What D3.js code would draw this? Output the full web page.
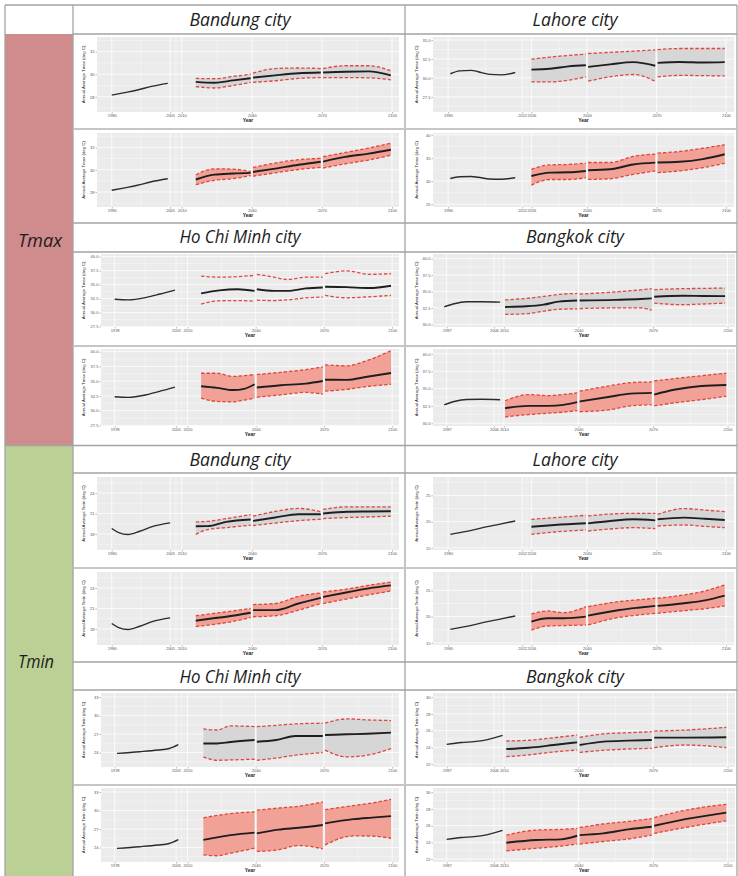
<!DOCTYPE html>
<html>
<head>
<meta charset="utf-8">
<script src="https://cdn.jsdelivr.net/npm/d3@7"></script>
<style>
  html, body { margin: 0; padding: 0; background: #ffffff; }
  svg { display: block; }
</style>
</head>
<body>
<svg id="figure" width="738" height="876"></svg>
<script>
// ---------- annual average temperature (deg C), observed and projected ----------
const cities = ["Bandung city", "Lahore city", "Ho Chi Minh city", "Bangkok city"];
const variables = ["Tmax", "Tmin"];
const scenarios = ["rcp45", "rcp85"];

// x-axis breaks (years) per city
const bandungYearBreaks = [1980, 2005, 2010, 2040, 2070, 2100];
const lahoreYearBreaks = [1980, 2012, 2016, 2040, 2070, 2100];
const hcmYearBreaks = [1978, 2005, 2010, 2040, 2070, 2100];
const bangkokYearBreaks = [1987, 2006, 2010, 2040, 2070, 2100];

// x-axis limits (years) per city
const bandungYearLimits = [1973.7, 2103];
const lahoreYearLimits = [1973.5, 2103.5];
const hcmYearLimits = [1972, 2103];
const bangkokYearLimits = [1981.5, 2103];

// y-axis breaks and limits
const bandungTmaxBreaks = [28, 30, 32];
const bandungTmaxLimits = [26.65, 33.3];
const lahoreTmax45Breaks = [27.5, 30, 32.5, 35];
const lahoreTmax45Limits = [25.5, 35.4];
const lahoreTmax85Breaks = [25, 30, 35, 40];
const lahoreTmax85Limits = [24.4, 40.4];
const hcmTmaxBreaks = [27.5, 30, 32.5, 35, 37.5, 40];
const hcmTmaxLimits = [27.4, 40.45];
const bangkokTmaxBreaks = [30, 32.5, 35, 37.5, 40];
const bangkokTmaxLimits = [29.6, 40.7];
const bandungTminBreaks = [18, 21, 24];
const bandungTminLimits = [15.65, 26.35];
const lahoreTminBreaks = [15, 20, 25];
const lahoreTminLimits = [14.6, 28.5];
const hcmTminBreaks = [24, 27, 30, 33];
const hcmTminLimits = [21.65, 33.65];
const bangkokTminBreaks = [22, 24, 26, 28, 30];
const bangkokTminLimits = [21.65, 30.5];

// observed series: [year, value]
const bandungTmaxObs = [[1980, 28.15], [1985, 28.35], [1991, 28.6], [1997, 28.92], [2004, 29.19]];
const lahoreTmaxObs = [[1981, 30.55], [1985, 30.93], [1990, 31.0], [1993, 30.82], [1998, 30.46], [2003, 30.4], [2009, 30.72]];
const hcmTmaxObs = [[1978, 32.35], [1984, 32.25], [1992, 32.7], [1998, 33.3], [2004.5, 34.0]];
const bangkokTmaxObs = [[1986, 32.65], [1990, 33.13], [1995, 33.43], [2001, 33.45], [2008.5, 33.38]];
const bandungTminObs = [[1980, 18.8], [1983, 18.2], [1987, 17.92], [1992, 18.4], [1998, 19.15], [2005, 19.63]];
const lahoreTminObs = [[1981, 17.58], [1988, 18.15], [1995, 18.85], [2002, 19.49], [2009, 20.13]];
const hcmTminObs = [[1979, 23.86], [1989, 24.13], [1997, 24.4], [2002, 24.65], [2006, 25.27]];
const bangkokTminObs = [[1987, 24.36], [1993, 24.58], [1998, 24.68], [2003, 24.9], [2009.5, 25.43]];

// projected series: [year, lower, mean, upper]; three periods split at 2040 and 2070
const bandungTmax45 = [
  [2016, 28.9, 29.32, 29.63], [2024, 28.78, 29.24, 29.6], [2032, 29.0, 29.45, 29.8], [2039.5, 29.27, 29.65, 30.0],
  [2040.5, 29.28, 29.7, 30.1], [2050, 29.42, 29.9, 30.5], [2060, 29.63, 30.08, 30.55], [2069.5, 29.7, 30.15, 30.5],
  [2070.5, 29.7, 30.15, 30.5], [2080, 29.7, 30.22, 30.75], [2090, 29.68, 30.25, 30.75], [2099.5, 29.5, 29.9, 30.3]
];
const bandungTmax85 = [
  [2016, 28.65, 29.12, 29.55], [2024, 29.05, 29.56, 30.08], [2032, 29.2, 29.66, 30.05], [2039.5, 29.47, 29.72, 29.85],
  [2040.5, 29.42, 29.8, 30.2], [2050, 29.72, 30.1, 30.6], [2060, 30.02, 30.45, 30.9], [2069.5, 30.22, 30.72, 31.02],
  [2070.5, 30.15, 30.73, 31.17], [2080, 30.53, 31.15, 31.55], [2090, 30.87, 31.45, 31.95], [2099.5, 31.3, 31.8, 32.38]
];
const lahoreTmax45 = [
  [2016, 29.47, 31.1, 32.47], [2024, 29.47, 31.2, 32.75], [2032, 29.7, 31.52, 32.97], [2039.5, 30.13, 31.67, 33.13],
  [2040.5, 29.56, 31.45, 33.22], [2050, 30.15, 31.78, 33.37], [2060, 30.45, 32.08, 33.53], [2069.5, 29.55, 31.6, 33.7],
  [2070.5, 30.13, 31.98, 33.74], [2080, 30.33, 32.1, 33.88], [2090, 30.3, 32.03, 33.88], [2099.5, 30.26, 32.08, 33.88]
];
const lahoreTmax85 = [
  [2016, 29.12, 31.1, 32.56], [2024, 30.35, 31.83, 33.5], [2032, 30.35, 31.9, 33.6], [2039.5, 30.73, 32.19, 33.88],
  [2040.5, 30.37, 32.34, 34.02], [2050, 30.51, 32.56, 34.02], [2060, 31.46, 33.6, 35.34], [2069.5, 32.19, 34.0, 35.85],
  [2070.5, 31.83, 34.02, 36.07], [2080, 32.2, 34.17, 36.4], [2090, 32.9, 34.75, 37.1], [2099.5, 33.85, 35.8, 37.85]
];
const hcmTmax45 = [
  [2016, 31.51, 33.42, 36.5], [2024, 32.08, 33.95, 36.3], [2032, 32.13, 34.15, 36.4], [2039.5, 32.01, 33.85, 36.63],
  [2040.5, 32.19, 34.16, 36.81], [2048, 32.13, 33.85, 36.32], [2054, 32.25, 33.85, 35.89], [2062, 32.6, 34.3, 36.3], [2069.5, 32.75, 34.47, 36.32],
  [2070.5, 33.05, 34.59, 36.93], [2080, 32.62, 34.52, 37.43], [2090, 32.8, 34.36, 36.81], [2099.5, 33.05, 34.78, 36.93]
];
const hcmTmax85 = [
  [2016, 32.12, 34.14, 36.34], [2023, 31.57, 33.87, 36.34], [2030, 31.5, 33.49, 35.8], [2035, 31.8, 33.7, 35.95], [2039.5, 32.12, 34.47, 36.12],
  [2040.5, 32.28, 33.93, 36.12], [2051, 32.66, 34.31, 36.5], [2062, 33.1, 34.58, 36.95], [2069.5, 32.77, 35.02, 37.43],
  [2070.5, 33.32, 35.24, 37.76], [2080, 33.6, 35.22, 37.6], [2089, 34.1, 35.75, 38.5], [2099.5, 34.47, 36.39, 40.18]
];
const bangkokTmax45 = [
  [2010.5, 31.52, 32.65, 33.72], [2019, 31.62, 32.75, 33.95], [2026, 32.0, 33.0, 34.25], [2032, 32.3, 33.45, 34.55], [2039.5, 32.35, 33.62, 34.7],
  [2040.5, 32.4, 33.62, 34.6], [2055, 32.5, 33.72, 34.94], [2065, 32.5, 33.85, 35.25], [2069.5, 32.16, 33.96, 35.43],
  [2070.5, 33.23, 34.21, 35.28], [2082, 32.99, 34.35, 35.43], [2090, 33.1, 34.32, 35.47], [2099, 33.23, 34.3, 35.52]
];
const bangkokTmax85 = [
  [2010.5, 30.92, 32.16, 33.24], [2020, 31.25, 32.5, 34.13], [2028, 31.45, 32.5, 33.98], [2034, 31.6, 32.65, 34.15], [2039.5, 31.81, 33.04, 34.37],
  [2040.5, 31.66, 33.14, 34.62], [2052, 31.91, 33.78, 35.36], [2061, 32.5, 34.27, 35.85], [2069.5, 32.65, 34.37, 35.95],
  [2070.5, 32.5, 34.13, 36.1], [2079, 32.95, 34.86, 36.45], [2089.5, 33.4, 35.36, 36.85], [2099.5, 33.88, 35.5, 37.23]
];
const bandungTmin45 = [
  [2016, 17.95, 19.13, 19.77], [2021, 18.64, 19.15, 19.85], [2029, 18.93, 19.77, 20.25], [2039.5, 19.28, 20.11, 20.85],
  [2040.5, 19.23, 19.92, 20.61], [2050, 19.6, 20.41, 21.3], [2060, 19.95, 20.9, 21.74], [2069.5, 20.16, 20.9, 21.25],
  [2070.5, 20.26, 21.0, 21.59], [2081, 20.41, 21.25, 21.98], [2090, 20.5, 21.3, 21.98], [2099.5, 20.61, 21.34, 21.98]
];
const bandungTmin85 = [
  [2016, 18.34, 19.21, 19.94], [2022, 18.6, 19.5, 20.2], [2029, 18.92, 19.79, 20.52], [2039.5, 19.69, 20.37, 21.0],
  [2040.5, 19.79, 20.76, 21.58], [2050, 19.94, 20.76, 21.73], [2060, 20.76, 21.73, 22.79], [2069.5, 21.73, 22.55, 23.27],
  [2070.5, 21.73, 22.69, 23.42], [2081.5, 22.45, 23.42, 23.9], [2090, 23.0, 23.95, 24.4], [2099.5, 23.56, 24.39, 24.87]
];
const lahoreTmin45 = [
  [2016, 17.58, 19.04, 20.45], [2026, 18.03, 19.36, 20.76], [2039.5, 18.41, 19.68, 21.21],
  [2040.5, 18.22, 19.68, 21.08], [2050, 18.6, 20.13, 21.45], [2060, 18.85, 20.45, 21.59], [2069.5, 18.66, 20.25, 21.59],
  [2070.5, 19.17, 20.45, 21.4], [2082, 19.36, 20.76, 22.48], [2091, 19.1, 20.55, 22.2], [2099.5, 18.85, 20.32, 21.91]
];
const lahoreTmin85 = [
  [2016, 17.45, 19.04, 20.51], [2023, 18.22, 19.68, 21.08], [2030, 18.3, 19.68, 20.76], [2039.5, 18.41, 20.0, 21.91],
  [2040.5, 18.41, 20.19, 21.91], [2054, 19.87, 21.27, 22.87], [2062, 20.3, 21.7, 23.2], [2069.5, 20.64, 22.04, 23.5],
  [2070.5, 20.64, 22.04, 23.5], [2082, 21.15, 22.55, 24.14], [2091, 21.5, 23.1, 24.9], [2099.5, 22.04, 24.01, 26.05]
];
const hcmTmin45 = [
  [2017, 23.29, 25.47, 27.82], [2023, 22.74, 25.47, 27.65], [2029, 22.8, 25.7, 28.31], [2039.5, 22.91, 26.02, 28.2],
  [2040.5, 22.74, 25.75, 28.2], [2049, 23.1, 26.02, 28.4], [2057.5, 23.56, 26.67, 28.64], [2069.5, 24.0, 26.67, 28.75],
  [2070.5, 24.38, 26.84, 28.75], [2080, 23.29, 26.95, 29.45], [2089, 23.56, 27.05, 29.29], [2099.5, 24.65, 27.22, 29.18]
];
const hcmTmin85 = [
  [2017, 22.82, 25.23, 28.82], [2023, 22.66, 25.65, 29.2], [2029, 23.09, 26.0, 29.5], [2039.5, 23.89, 26.41, 29.79],
  [2040.5, 23.36, 26.3, 30.05], [2050, 23.63, 26.9, 30.4], [2059, 24.32, 27.2, 30.7], [2069.5, 23.79, 27.64, 31.39],
  [2070.5, 24.43, 27.91, 30.16], [2083, 25.88, 28.6, 30.8], [2091, 25.85, 28.85, 31.2], [2099.5, 25.5, 29.09, 31.82]
];
const bangkokTmin45 = [
  [2011, 22.88, 23.8, 24.76], [2020, 23.1, 23.96, 24.85], [2030, 23.45, 24.28, 25.15], [2039.5, 23.68, 24.6, 25.47],
  [2040.5, 23.4, 24.28, 25.2], [2050, 23.65, 24.68, 25.6], [2060, 23.8, 24.8, 25.75], [2069.5, 23.88, 24.88, 25.87],
  [2070.5, 23.96, 25.16, 25.95], [2083, 24.28, 25.16, 26.07], [2099.5, 23.96, 25.2, 26.39]
];
const bangkokTmin85 = [
  [2011, 22.97, 23.96, 24.87], [2023, 23.29, 24.28, 25.47], [2033, 23.55, 24.36, 25.55], [2039.5, 23.8, 24.79, 25.66],
  [2040.5, 23.8, 24.87, 25.78], [2050, 24.1, 25.07, 26.2], [2060, 24.4, 25.55, 26.5], [2069.5, 24.87, 25.86, 26.85],
  [2070.5, 25.07, 25.98, 26.97], [2083, 25.78, 26.77, 27.84], [2099.5, 26.57, 27.56, 28.55]
];

// ---------- panel definitions ----------
const yearBreaks = [bandungYearBreaks, lahoreYearBreaks, hcmYearBreaks, bangkokYearBreaks];
const yearLimits = [bandungYearLimits, lahoreYearLimits, hcmYearLimits, bangkokYearLimits];

// city index, variable index, scenario index, observed, projected, y breaks, y limits
const panelDefs = [
  [0, 0, 0, bandungTmaxObs, bandungTmax45, bandungTmaxBreaks, bandungTmaxLimits],
  [0, 0, 1, bandungTmaxObs, bandungTmax85, bandungTmaxBreaks, bandungTmaxLimits],
  [1, 0, 0, lahoreTmaxObs, lahoreTmax45, lahoreTmax45Breaks, lahoreTmax45Limits],
  [1, 0, 1, lahoreTmaxObs, lahoreTmax85, lahoreTmax85Breaks, lahoreTmax85Limits],
  [2, 0, 0, hcmTmaxObs, hcmTmax45, hcmTmaxBreaks, hcmTmaxLimits],
  [2, 0, 1, hcmTmaxObs, hcmTmax85, hcmTmaxBreaks, hcmTmaxLimits],
  [3, 0, 0, bangkokTmaxObs, bangkokTmax45, bangkokTmaxBreaks, bangkokTmaxLimits],
  [3, 0, 1, bangkokTmaxObs, bangkokTmax85, bangkokTmaxBreaks, bangkokTmaxLimits],
  [0, 1, 0, bandungTminObs, bandungTmin45, bandungTminBreaks, bandungTminLimits],
  [0, 1, 1, bandungTminObs, bandungTmin85, bandungTminBreaks, bandungTminLimits],
  [1, 1, 0, lahoreTminObs, lahoreTmin45, lahoreTminBreaks, lahoreTminLimits],
  [1, 1, 1, lahoreTminObs, lahoreTmin85, lahoreTminBreaks, lahoreTminLimits],
  [2, 1, 0, hcmTminObs, hcmTmin45, hcmTminBreaks, hcmTminLimits],
  [2, 1, 1, hcmTminObs, hcmTmin85, hcmTminBreaks, hcmTminLimits],
  [3, 1, 0, bangkokTminObs, bangkokTmin45, bangkokTminBreaks, bangkokTminLimits],
  [3, 1, 1, bangkokTminObs, bangkokTmin85, bangkokTminBreaks, bangkokTminLimits]
];

// ---------- layout ----------
const svg = d3.select("#figure");
const W = 738, H = 876;
const tableLeft = 5, labelColRight = 73, midX = 405, tableRight = 737;
const rowTop = [37, 133, 254, 349, 477, 572, 693, 788];
const rowBottom = [112, 207, 327, 426, 550, 645, 767, 862];
const plotLeftByCity = [97, 433, 101, 433];
const plotRightByCity = [399, 734, 399, 735];
const yTitleXByCol = [85, 418];

const ribbonFill = ["#d6d6d6", "#f2a196"];
const boundColor = "#e0463c";
const axisFont = "'Liberation Sans', Arial, sans-serif";
const titleFont = "'Open Sans', 'Noto Sans', sans-serif";

svg.append("rect").attr("width", W).attr("height", H).attr("fill", "#ffffff");

// left label column
svg.append("rect").attr("x", tableLeft).attr("y", 34).attr("width", labelColRight - tableLeft).attr("height", 445 - 34).attr("fill", "#d08c8c");
svg.append("rect").attr("x", tableLeft).attr("y", 446).attr("width", labelColRight - tableLeft).attr("height", H - 446).attr("fill", "#bbd094");

// ---------- one ggplot-style panel ----------
function minorBreaks(b, lim) {
  const ext = [b[0] - (b[1] - b[0]), ...b, b[b.length - 1] + (b[b.length - 1] - b[b.length - 2])];
  return d3.pairs(ext, (a, c) => (a + c) / 2).filter(v => v >= lim[0] && v <= lim[1]);
}

panelDefs.forEach(([ci, vi, si, obs, proj, yb, ylim], k) => {
  const row = vi * 4 + (ci >= 2 ? 2 : 0) + si;
  const col = ci % 2;
  const x0 = plotLeftByCity[ci], x1 = plotRightByCity[ci];
  const y0 = rowTop[row], y1 = rowBottom[row];
  const xb = yearBreaks[ci];
  const x = d3.scaleLinear().domain(yearLimits[ci]).range([x0, x1]);
  const y = d3.scaleLinear().domain(ylim).range([y1, y0]);
  const g = svg.append("g");

  g.append("rect").attr("x", x0).attr("y", y0).attr("width", x1 - x0).attr("height", y1 - y0).attr("fill", "#ebebeb");

  const grid = g.append("g").attr("stroke", "#ffffff").attr("fill", "none");
  minorBreaks(xb, yearLimits[ci]).forEach(v => grid.append("line").attr("x1", x(v)).attr("x2", x(v)).attr("y1", y0).attr("y2", y1).attr("stroke-width", 0.35));
  minorBreaks(yb, ylim).forEach(v => grid.append("line").attr("x1", x0).attr("x2", x1).attr("y1", y(v)).attr("y2", y(v)).attr("stroke-width", 0.35));
  xb.forEach(v => grid.append("line").attr("x1", x(v)).attr("x2", x(v)).attr("y1", y0).attr("y2", y1).attr("stroke-width", 0.75));
  yb.forEach(v => grid.append("line").attr("x1", x0).attr("x2", x1).attr("y1", y(v)).attr("y2", y(v)).attr("stroke-width", 0.75));

  const clipId = "clip" + k;
  g.append("clipPath").attr("id", clipId).append("rect").attr("x", x0).attr("y", y0).attr("width", x1 - x0).attr("height", y1 - y0);
  const body = g.append("g").attr("clip-path", `url(#${clipId})`);

  const curve = d3.curveMonotoneX;
  const periods = [
    proj.filter(r => r[0] < 2040),
    proj.filter(r => r[0] >= 2040 && r[0] < 2070),
    proj.filter(r => r[0] >= 2070)
  ];
  const showRibbon = !(ci === 2 && vi === 0 && si === 0);
  const area = d3.area().x(d => x(d[0])).y0(d => y(d[1])).y1(d => y(d[3])).curve(curve);
  const lineOf = i => d3.line().x(d => x(d[0])).y(d => y(d[i])).curve(curve);

  periods.forEach(p => {
    if (showRibbon) body.append("path").attr("d", area(p)).attr("fill", ribbonFill[si]);
  });
  body.append("path").attr("d", d3.line().x(d => x(d[0])).y(d => y(d[1])).curve(curve)(obs))
    .attr("fill", "none").attr("stroke", "#2b2b2b").attr("stroke-width", 1.4);
  periods.forEach(p => {
    body.append("path").attr("d", lineOf(2)(p)).attr("fill", "none").attr("stroke", "#1e1e1e").attr("stroke-width", 1.9);
    [1, 3].forEach(i => body.append("path").attr("d", lineOf(i)(p)).attr("fill", "none")
      .attr("stroke", boundColor).attr("stroke-width", 1.3).attr("stroke-dasharray", "3.4,2"));
  });

  // axes
  const fmt = yb.some(v => v % 1 !== 0) ? d3.format(".1f") : d3.format("d");
  const styleAxis = s => {
    s.select(".domain").remove();
    s.selectAll(".tick line").attr("stroke", "#555").attr("stroke-width", 0.4);
    s.selectAll(".tick text").attr("font-size", 4).attr("fill", "#555").attr("font-family", axisFont);
  };
  g.append("g").attr("transform", `translate(${x0},0)`)
    .call(d3.axisLeft(y).tickValues(yb).tickSize(1.6).tickPadding(1).tickFormat(fmt)).call(styleAxis);
  g.append("g").attr("transform", `translate(0,${y1})`)
    .call(d3.axisBottom(x).tickValues(xb).tickSize(1.6).tickPadding(0.8).tickFormat(d3.format("d"))).call(styleAxis);

  g.append("text").attr("x", (x0 + x1) / 2).attr("y", y1 + 10).attr("text-anchor", "middle")
    .attr("font-family", axisFont).attr("font-size", 5).attr("font-weight", "bold").attr("fill", "#222").text("Year");
  const ty = (y0 + y1) / 2;
  g.append("text").attr("transform", `translate(${yTitleXByCol[col]},${ty}) rotate(-90)`).attr("text-anchor", "middle")
    .attr("font-family", axisFont).attr("font-size", 4.3).attr("fill", "#222")
    .text(`Annual Average ${variables[vi]} (deg C)`);
});

// ---------- table rules ----------
const rules = svg.append("g").attr("stroke", "#a3a3a3").attr("stroke-width", 1.3);
[[5, tableLeft], [34, labelColRight], [223, labelColRight], [252, labelColRight], [445.5, tableLeft],
 [473, labelColRight], [662, labelColRight], [690, labelColRight]].forEach(([yy, xs]) =>
  rules.append("line").attr("x1", xs).attr("x2", tableRight).attr("y1", yy).attr("y2", yy));
[tableLeft, labelColRight, midX, tableRight].forEach(xx =>
  rules.append("line").attr("x1", xx).attr("x2", xx).attr("y1", 5).attr("y2", H));
const seps = svg.append("g").attr("stroke", "#c6c6c6").attr("stroke-width", 2);
[129, 346, 568, 785].forEach(yy => seps.append("line").attr("x1", labelColRight + 1).attr("x2", tableRight).attr("y1", yy).attr("y2", yy));

// ---------- city headers ----------
const headerBaselines = [25.5, 243, 466, 683];
const headerCenters = [240, 575];
const headerWidths = [101, 85, 121, 98];
headerBaselines.forEach((by, h) => {
  [0, 1].forEach(col => {
    const ci = (h % 2) * 2 + col;
    svg.append("text").attr("x", headerCenters[col]).attr("y", by).attr("text-anchor", "middle")
      .attr("font-family", titleFont).attr("font-style", "italic").attr("font-size", 17.5).attr("fill", "#1c1c1c")
      .attr("textLength", headerWidths[ci]).attr("lengthAdjust", "spacingAndGlyphs")
      .text(cities[ci]);
  });
});

// ---------- variable labels ----------
[[variables[0], 40, 247, 44], [variables[1], 36, 668, 36]].forEach(([txt, cx, by, w]) => {
  svg.append("text").attr("x", cx).attr("y", by).attr("text-anchor", "middle")
    .attr("font-family", titleFont).attr("font-style", "italic").attr("font-size", 18.5).attr("fill", "#1c1c1c")
    .attr("textLength", w).attr("lengthAdjust", "spacingAndGlyphs").text(txt);
});
</script>
</body>
</html>
